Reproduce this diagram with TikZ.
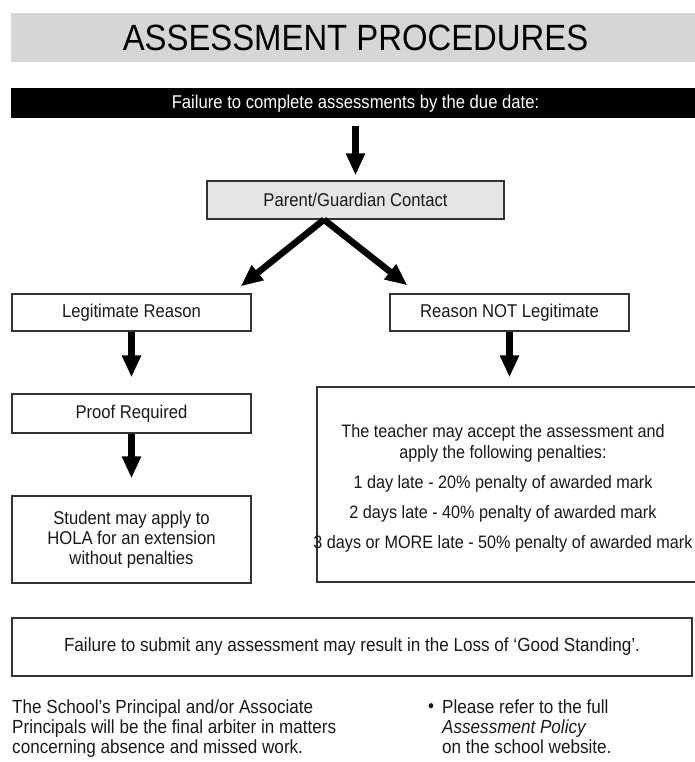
\documentclass[tikz,border=0pt]{standalone}
\usepackage{fontspec}
\setmainfont{Liberation Sans}[FakeStretch=0.9]
\usetikzlibrary{arrows.meta,positioning}

\tikzset{
  box/.style={draw=black!80, line width=1.3pt, fill=white, minimum width=239pt, minimum height=37pt, inner sep=0pt, align=center, text=black!90, font=\fontsize{18.5}{20}\selectfont},
  bigarrow/.style={-{Triangle[width=18pt,length=22pt]}, line width=6.5pt},
  plain/.style={inner sep=0pt, align=left, text=black!90, font=\fontsize{19}{20}\selectfont}
}

\begin{document}
\begin{tikzpicture}[x=1pt,y=-1pt]
\useasboundingbox (0,0) rectangle (694,762);

% Heading
\node[fill=black!16, minimum width=689pt, minimum height=49pt, inner sep=0pt, text=black, font=\fontsize{36.5}{40}\selectfont] (title) at (355.5,37.5) {ASSESSMENT PROCEDURES};
\node[fill=black, text=white, minimum width=689pt, minimum height=30pt, inner sep=0pt, font=\fontsize{18.5}{20}\selectfont] (due) at (355.5,103.5) {Failure to complete assessments by the due date:};

% Boxes
\node[box, fill=black!10, minimum width=297pt, minimum height=38pt] (contact) at (355.5,200) {Parent/Guardian Contact};
\node[box] (legit) at (131.5,312.5) {Legitimate Reason};
\node[box] (notlegit) at (509.5,312.5) {Reason NOT Legitimate};
\node[box, minimum height=39pt] (proof) at (131.5,413.5) {Proof Required};
\node[box, minimum height=87pt] (student) at (131.5,539.5) {Student may apply to\\HOLA for an extension\\without penalties};
\node[box, minimum width=380pt, minimum height=195pt] (penalty) at (507,484.5) {};
\node[inner sep=0pt, align=center, text=black!90, font=\fontsize{18}{21}\selectfont] (rules) at (503,488) {The teacher may accept the assessment and\\apply the following penalties:\\[9pt]1 day late - 20\% penalty of awarded mark\\[9pt]2 days late - 40\% penalty of awarded mark\\[9pt]3 days or MORE late - 50\% penalty of awarded mark};
\node[box, minimum width=680pt, minimum height=58pt, font=\fontsize{19}{20}\selectfont] (standing) at (352,647) {Failure to submit any assessment may result in the Loss of ‘Good Standing’.};

% Arrows
\draw[bigarrow, shorten <=7pt, shorten >=5pt] (due) -- (contact);
\draw[bigarrow] ([xshift=-31.5pt]contact.south) -- ([xshift=-11pt,yshift=7pt]legit.north east);
\draw[bigarrow] ([xshift=-31.5pt]contact.south) -- ([xshift=18pt,yshift=8pt]notlegit.north west);
\draw[bigarrow, shorten >=16pt] (legit) -- (proof);
\draw[bigarrow, shorten >=17pt] (proof) -- (student);
\draw[bigarrow, shorten >=9pt] (notlegit.south) -- (notlegit.south |- penalty.north);

% Notes
\node[plain, anchor=north west] (arbiter) at (12,700) {The School’s Principal and/or Associate\\Principals will be the final arbiter in matters\\concerning absence and missed work.};
\node[plain] (dot) at (431,708) {•};
\node[plain, anchor=north west] (policy) at (442,700) {Please refer to the full\\\textit{Assessment Policy}\\on the school website.};

\end{tikzpicture}
\end{document}
